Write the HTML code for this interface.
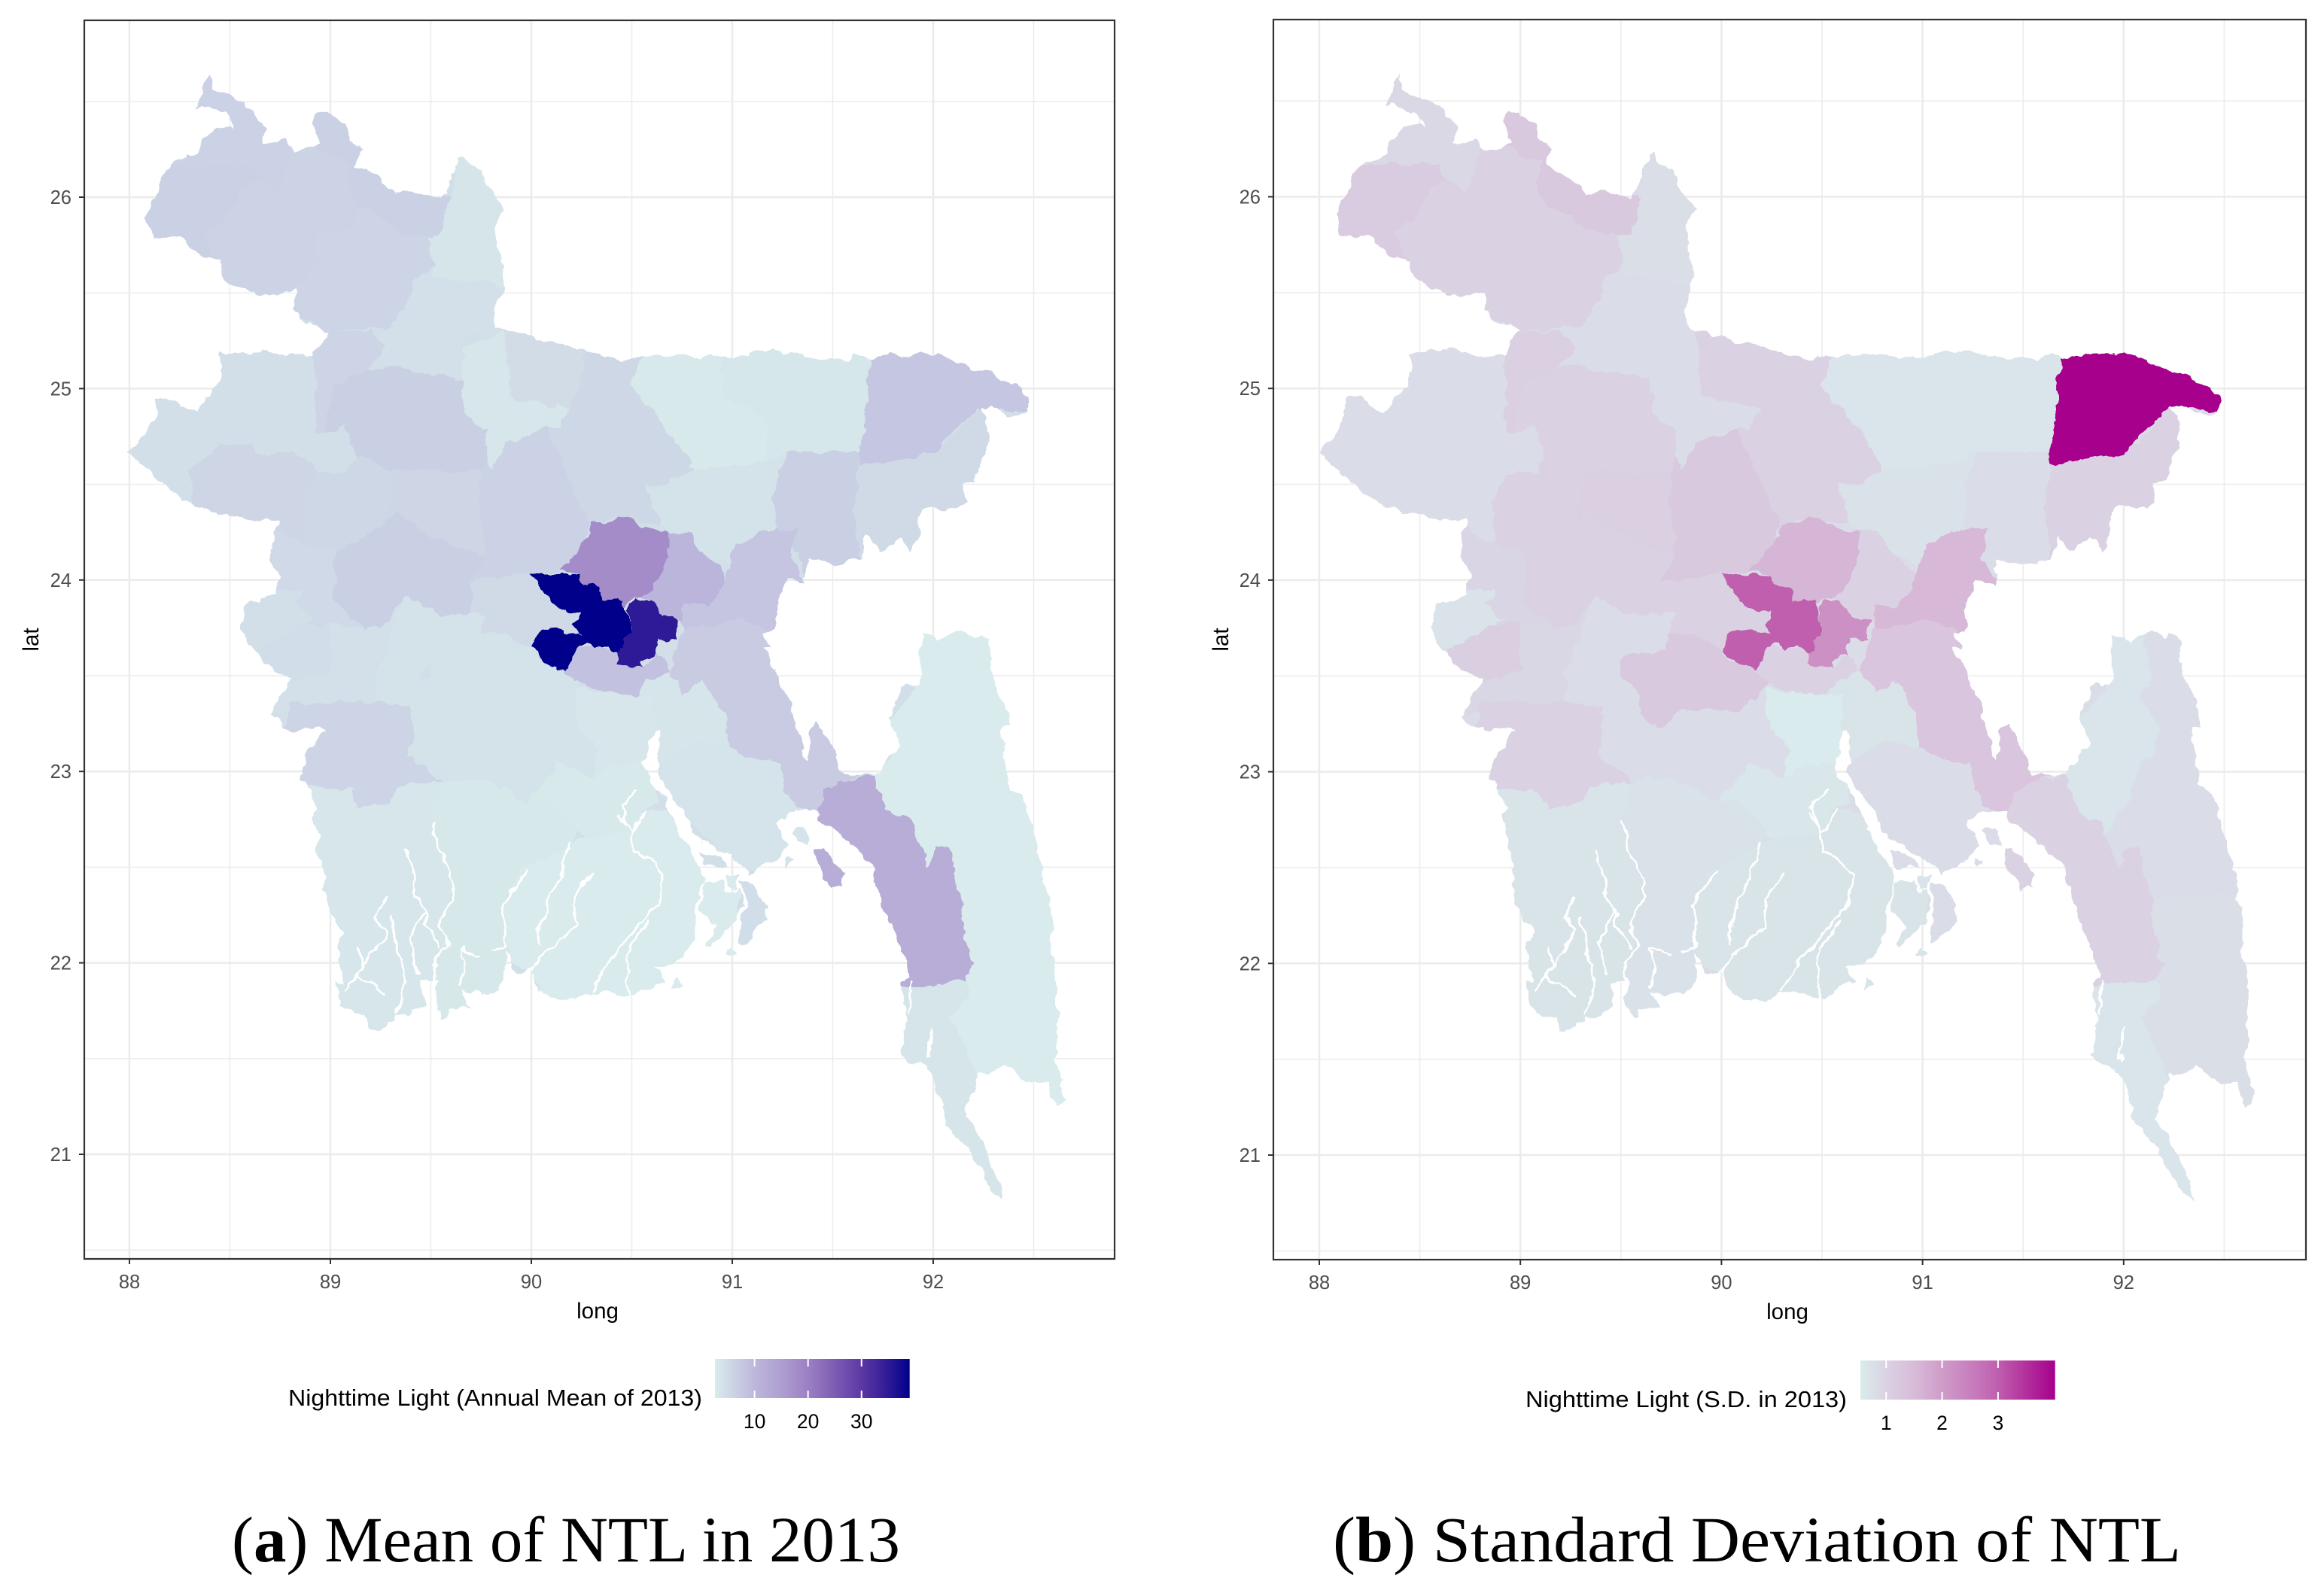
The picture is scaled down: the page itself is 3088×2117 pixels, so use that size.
<!DOCTYPE html>
<html lang="en">
<head>
<meta charset="utf-8">
<title>Nighttime Light in Bangladesh, 2013</title>
<style>
  html, body { margin: 0; padding: 0; background: #ffffff; }
  svg { display: block; }
  text { font-family: "Liberation Sans", sans-serif; }
  .caption { font-family: "Liberation Serif", serif; font-size: 86px; fill: #000; }
  .axis-title { font-size: 29.5px; fill: #000; }
  .legend-title { font-size: 31px; fill: #000; }
  .legend-label { font-size: 26.5px; fill: #000; }
  .tick-label { font-size: 25.5px; fill: #4d4d4d; }
</style>
</head>
<body>
<svg id="figure" xmlns="http://www.w3.org/2000/svg" width="3088" height="2117" viewBox="0 0 3088 2117">
  <defs id="defs">
    <filter id="rough-edge" x="0" y="0" width="1" height="1" color-interpolation-filters="sRGB">
      <feTurbulence type="fractalNoise" baseFrequency="0.05" numOctaves="3" seed="7" result="noise"/>
      <feDisplacementMap in="SourceGraphic" in2="noise" scale="14" xChannelSelector="R" yChannelSelector="G"/>
    </filter>
  </defs>
  <rect x="0" y="0" width="3088" height="2117" fill="#ffffff"/>

  <text class="axis-title" x="794" y="1752" text-anchor="middle">long</text>
  <text class="axis-title" transform="translate(51,850) rotate(-90)" text-anchor="middle">lat</text>
  <text class="legend-title" x="383" y="1868" textLength="550" lengthAdjust="spacingAndGlyphs">Nighttime Light (Annual Mean of 2013)</text>
  <text class="caption" x="308" y="2075" textLength="888" lengthAdjust="spacingAndGlyphs">(<tspan font-weight="bold">a</tspan>) Mean of NTL in 2013</text>

  <text class="axis-title" x="2375" y="1753" text-anchor="middle">long</text>
  <text class="axis-title" transform="translate(1632,850) rotate(-90)" text-anchor="middle">lat</text>
  <text class="legend-title" x="2027" y="1870" textLength="427" lengthAdjust="spacingAndGlyphs">Nighttime Light (S.D. in 2013)</text>
  <text class="caption" x="1771" y="2075" textLength="1127" lengthAdjust="spacingAndGlyphs">(<tspan font-weight="bold">b</tspan>) Standard Deviation of NTL</text>
</svg>

<script>
const xMajorTicks = [88, 89, 90, 91, 92];
const xMinorTicks = [88.5, 89.5, 90.5, 91.5, 92.5];
const yMajorTicks = [26, 25, 24, 23, 22, 21];
const yMinorTicks = [26.5, 25.5, 24.5, 23.5, 22.5, 21.5, 20.5];

const meanLegendTicks = [10, 20, 30];
const sdLegendTicks = [1, 2, 3];

const meanScaleValues = [2.6, 6, 10, 15, 20, 25, 30, 35, 39];
const meanScaleColors = ['#d9ecec', '#ccd3e5', '#bdb7dc', '#ae9fd0', '#9c80c3', '#7d5cb4', '#5c38a4', '#2e1a97', '#00008b'];
const sdScaleValues = [0.54, 1, 1.5, 2, 2.5, 3, 3.5, 4.02];
const sdScaleColors = ['#d9ecec', '#dad2e3', '#d8bcd9', '#cf9cc9', '#c87fbe', '#bf5fae', '#b3309d', '#a6008c'];

const baseMean = 4.4;
const baseSd = 0.8;

const districtNames = ['Panchagarh','Thakurgaon','Dinajpur','Nilphamari','Lalmonirhat','Rangpur','Kurigram','Gaibandha','Naogaon','Chapai Nawabganj','Rajshahi','Joypurhat','Bogra','Natore','Sirajganj','Pabna','Kushtia','Meherpur','Chuadanga','Jhenaidah','Jamalpur','Sherpur','Mymensingh','Tangail','Netrokona','Sunamganj','Kishoreganj','Habiganj','Moulvibazar','Sylhet','Brahmanbaria','Narsingdi','Gazipur','Manikganj','Munshiganj','Rajbari','Faridpur','Narail','Jessore','Satkhira','Khulna','Barisal','Madaripur','Chandpur','Comilla','Noakhali','Patuakhali','Hatiya','Chittagong','Khagrachhari','Rangamati','Bandarban','Coxs Bazar','Dhaka','Narayanganj'];

const meanValues = [6.2,6.3,6.0,6.0,6.3,5.8,3.6,4.2,4.4,4.4,5.6,5.8,6.5,5.4,5.6,6.5,5.2,4.4,4.6,4.2,3.4,4.8,5.5,6.2,3.0,3.3,4.0,6.5,5.0,7.8,8.0,10.5,18,5.0,8.6,3.8,3.9,3.8,5.8,3.4,3.2,3.0,3.4,3.5,7.2,3.7,2.7,4.6,12,2.7,2.7,2.7,3.5,39,35];

const sdValues = [0.9,1.15,1.0,1.0,1.2,1.0,0.78,0.8,0.8,0.82,0.8,1.05,1.0,1.0,1.05,1.02,0.95,0.7,1.1,0.92,0.8,1.0,1.02,1.2,0.66,0.66,0.72,0.82,1.0,4.02,1.55,1.02,1.6,1.0,1.0,0.8,1.2,0.8,1.02,0.68,0.72,0.62,0.56,0.68,1.3,0.8,0.68,0.8,1.0,0.66,0.82,0.78,0.66,3.0,2.2];

const countryBoundary = [
88.40,26.64, 88.42,26.56, 88.52,26.51, 88.62,26.45, 88.68,26.35, 88.66,26.28, 88.78,26.30, 88.82,26.24, 88.87,26.25, 88.95,26.27, 88.91,26.40, 88.95,26.45, 89.07,26.39, 89.10,26.30, 89.16,26.25, 89.12,26.17, 89.22,26.12, 89.33,26.02, 89.40,26.03, 89.48,26.01, 89.56,25.99, 89.59,26.07, 89.64,26.22, 89.66,26.23, 89.69,26.17, 89.75,26.14, 89.79,26.04, 89.87,25.94, 89.82,25.85, 89.83,25.73, 89.87,25.65, 89.85,25.52, 89.82,25.42, 89.82,25.32, 89.90,25.30, 90.07,25.25, 90.27,25.20, 90.44,25.15, 90.61,25.18, 90.74,25.17, 90.91,25.16, 91.21,25.20, 91.44,25.16, 91.58,25.15, 91.61,25.18, 91.71,25.15, 91.74,25.17, 92.01,25.19, 92.11,25.14, 92.31,25.07, 92.41,25.02, 92.45,24.97, 92.48,24.96, 92.48,24.87, 92.36,24.86, 92.29,24.91, 92.23,24.90, 92.28,24.82, 92.27,24.70, 92.21,24.52, 92.15,24.50, 92.16,24.41, 92.11,24.37, 91.98,24.38, 91.93,24.33, 91.93,24.24, 91.89,24.14, 91.84,24.22, 91.74,24.15, 91.67,24.23, 91.64,24.11, 91.51,24.08, 91.37,24.11, 91.37,24.03, 91.36,23.98, 91.27,24.00, 91.22,23.87, 91.21,23.74, 91.16,23.72, 91.19,23.65, 91.15,23.65, 91.20,23.56, 91.23,23.48, 91.29,23.34, 91.31,23.26, 91.36,23.08, 91.38,23.06, 91.38,23.22, 91.43,23.26, 91.49,23.14, 91.54,22.99, 91.71,22.98, 91.78,23.08, 91.83,23.14, 91.78,23.28, 91.84,23.44, 91.94,23.46, 91.94,23.72, 91.99,23.70, 92.03,23.67, 92.14,23.74, 92.21,23.69, 92.23,23.72, 92.28,23.70, 92.29,23.52, 92.36,23.34, 92.39,23.24, 92.34,23.23, 92.37,22.94, 92.44,22.88, 92.49,22.74, 92.53,22.54, 92.60,22.20, 92.58,22.12, 92.62,21.88, 92.61,21.48, 92.66,21.28, 92.61,21.25, 92.56,21.38, 92.49,21.37, 92.41,21.42, 92.36,21.47, 92.31,21.43, 92.23,21.42, 92.16,21.20, 92.23,21.08, 92.26,21.00, 92.33,20.86, 92.34,20.75, 92.29,20.81, 92.18,21.02, 92.06,21.16, 92.01,21.38, 91.94,21.47, 91.89,21.48, 91.84,21.52, 91.87,21.70, 91.84,21.90, 91.88,21.92, 91.87,22.00, 91.82,22.12, 91.76,22.28, 91.69,22.52, 91.57,22.64, 91.43,22.75, 91.43,22.80, 91.29,22.79, 91.21,22.73, 91.28,22.62, 91.24,22.56, 91.09,22.46, 91.07,22.50, 90.94,22.59, 90.80,22.68, 90.77,22.78, 90.69,22.88, 90.63,23.00, 90.64,23.22, 90.61,23.22, 90.56,23.03, 90.59,22.96, 90.67,22.86, 90.68,22.80, 90.77,22.62, 90.83,22.50, 90.86,22.44, 90.82,22.28, 90.82,22.16, 90.76,22.04, 90.69,21.99, 90.61,21.98, 90.67,21.90, 90.61,21.89, 90.50,21.82, 90.37,21.85, 90.30,21.85, 90.22,21.81, 90.14,21.81, 90.07,21.83, 90.02,21.88, 90.00,21.98, 89.97,21.95, 89.93,21.95, 89.90,22.00, 89.87,22.06, 89.87,21.90, 89.84,21.85, 89.70,21.84, 89.65,21.85, 89.69,21.77, 89.59,21.76, 89.59,21.72, 89.55,21.71, 89.52,21.82, 89.54,21.90, 89.48,21.91, 89.45,21.90, 89.47,21.78, 89.38,21.72, 89.33,21.73, 89.33,21.70, 89.28,21.69, 89.27,21.66, 89.20,21.66, 89.18,21.72, 89.12,21.72, 89.05,21.78, 89.02,21.91, 89.07,21.90, 89.03,22.08, 89.07,22.16, 89.02,22.23, 88.98,22.32, 88.96,22.40, 88.98,22.44, 88.93,22.60, 88.95,22.66, 88.91,22.75, 88.93,22.82, 88.88,22.92, 88.85,22.96, 88.87,23.07, 88.93,23.16, 88.97,23.22, 88.88,23.23, 88.80,23.22, 88.70,23.29, 88.72,23.34, 88.75,23.37, 88.80,23.49, 88.72,23.53, 88.58,23.67, 88.56,23.74, 88.58,23.87, 88.73,23.92, 88.75,24.02, 88.70,24.12, 88.73,24.31, 88.55,24.32, 88.33,24.38, 88.20,24.47, 88.06,24.60, 88.00,24.67, 88.08,24.76, 88.13,24.85, 88.13,24.95, 88.20,24.96, 88.25,24.91, 88.33,24.88, 88.38,24.96, 88.45,25.02, 88.45,25.19, 88.53,25.19, 88.67,25.20, 88.80,25.17, 88.92,25.17, 88.97,25.27, 89.00,25.30, 88.87,25.35, 88.82,25.42, 88.83,25.51, 88.68,25.48, 88.53,25.53, 88.45,25.60, 88.45,25.66, 88.35,25.70, 88.25,25.80, 88.11,25.79, 88.08,25.90, 88.13,26.00, 88.16,26.10, 88.23,26.19, 88.35,26.23, 88.35,26.30, 88.45,26.37, 88.52,26.37, 88.48,26.44, 88.36,26.48, 88.33,26.47, 88.36,26.57
];

const islandBoundaries = [
[91.41,22.60, 91.44,22.61, 91.50,22.54, 91.56,22.46, 91.55,22.40, 91.49,22.39, 91.43,22.48],
[91.31,22.71, 91.36,22.71, 91.39,22.65, 91.39,22.61, 91.34,22.62, 91.29,22.68],
[91.04,22.42, 91.11,22.41, 91.17,22.30, 91.17,22.22, 91.07,22.12, 91.03,22.10, 91.04,22.20, 91.07,22.30],
[91.00,22.08, 91.03,22.04, 91.00,22.03, 90.97,22.05],
[90.86,22.42, 90.96,22.43, 90.97,22.36, 91.03,22.39, 91.05,22.30, 91.00,22.20, 90.89,22.08, 90.87,22.10, 90.92,22.20, 90.84,22.28],
[90.84,22.58, 90.94,22.56, 90.98,22.50, 90.87,22.50],
[90.97,22.45, 91.04,22.45, 91.02,22.39, 90.98,22.39],
[91.27,22.55, 91.31,22.54, 91.27,22.50],
[90.72,21.93, 90.76,21.90, 90.71,21.86]
];

const riverChannels = [
[89.51,22.73, 89.54,22.60, 89.59,22.48, 89.62,22.36, 89.57,22.24, 89.55,22.18, 89.59,22.10, 89.52,22.00, 89.52,21.90],
[89.38,22.58, 89.42,22.46, 89.43,22.34, 89.48,22.26, 89.47,22.20, 89.55,22.08],
[89.98,22.48, 89.90,22.38, 89.85,22.30, 89.87,22.18, 89.87,22.08, 89.80,22.06],
[90.30,22.47, 90.22,22.34, 90.22,22.20, 90.15,22.12, 90.04,22.02, 90.00,21.96],
[90.19,22.63, 90.15,22.46, 90.09,22.34, 90.07,22.26, 90.04,22.18, 90.04,22.10],
[90.44,22.78, 90.50,22.68, 90.50,22.58, 90.60,22.54, 90.65,22.46, 90.64,22.32, 90.57,22.24, 90.40,22.02, 90.30,21.86],
[90.52,22.90, 90.45,22.82, 90.47,22.74],
[89.27,22.34, 89.22,22.24, 89.28,22.16, 89.20,22.04, 89.13,21.92, 89.20,21.90, 89.27,21.84],
[89.13,22.08, 89.17,21.98, 89.07,21.86],
[89.74,22.04, 89.65,22.08, 89.67,21.96, 89.64,21.88],
[89.30,22.24, 89.33,22.08, 89.37,21.90, 89.33,21.74],
[89.47,22.28, 89.40,22.12, 89.43,21.95],
[91.90,21.90, 91.88,21.74],
[92.00,21.66, 91.98,21.50],
[90.47,22.00, 90.49,21.82],
[90.59,22.22, 90.49,22.08, 90.47,22.00],
[90.57,22.80, 90.50,22.68]
];

const districtBoundaries = [
[88.23,26.70, 88.83,26.70, 88.80,26.28, 88.78,26.15, 88.73,26.03, 88.63,26.09, 88.60,26.17, 88.18,26.17],
[87.93,26.17, 88.60,26.17, 88.63,26.09, 88.55,26.03, 88.48,25.88, 88.38,25.83, 88.41,25.70, 88.45,25.63, 87.93,25.63],
[88.48,25.88, 88.55,26.03, 88.63,26.09, 88.73,26.03, 88.90,26.03, 88.93,25.83, 88.93,25.63, 88.83,25.53, 88.80,25.40, 88.45,25.40, 88.45,25.63, 88.41,25.70, 88.38,25.83],
[88.80,26.28, 88.87,26.28, 89.10,26.18, 89.08,26.08, 89.13,25.95, 89.13,25.83, 88.93,25.83, 88.90,26.03, 88.73,26.03, 88.78,26.15],
[88.87,26.48, 89.20,26.48, 89.20,26.17, 89.60,26.00, 89.55,25.80, 89.37,25.80, 89.20,25.93, 89.13,25.95, 89.08,26.08, 89.10,26.18, 88.87,26.28],
[88.93,25.83, 89.13,25.83, 89.13,25.95, 89.20,25.93, 89.37,25.80, 89.48,25.80, 89.52,25.63, 89.43,25.58, 89.40,25.48, 89.30,25.32, 89.00,25.30, 88.80,25.40, 88.83,25.53, 88.93,25.63],
[89.60,26.00, 89.64,26.28, 90.00,26.28, 90.00,25.48, 89.80,25.55, 89.50,25.59, 89.52,25.63, 89.48,25.80, 89.55,25.80],
[89.50,25.59, 89.80,25.55, 90.00,25.48, 89.87,25.30, 89.65,25.27, 89.65,25.05, 89.28,25.12, 89.18,25.20, 89.30,25.32, 89.40,25.48, 89.43,25.58],
[88.45,25.20, 88.92,25.22, 88.93,24.77, 88.97,24.77, 89.07,24.80, 89.13,24.65, 89.07,24.56, 88.93,24.56, 88.90,24.63, 88.77,24.67, 88.63,24.66, 88.60,24.71, 88.45,24.70],
[87.86,25.27, 88.45,25.20, 88.45,24.70, 88.30,24.58, 88.31,24.37, 87.86,24.37],
[88.30,24.58, 88.45,24.70, 88.60,24.71, 88.63,24.66, 88.77,24.67, 88.90,24.63, 88.93,24.56, 88.87,24.42, 88.87,24.19, 88.73,24.27, 88.31,24.27],
[88.92,25.22, 88.98,25.30, 89.20,25.30, 89.28,25.22, 89.18,25.10, 89.02,25.02, 88.97,24.77, 88.93,24.77],
[89.18,25.10, 89.28,25.12, 89.65,25.05, 89.66,24.87, 89.77,24.78, 89.78,24.65, 89.76,24.57, 89.59,24.56, 89.33,24.57, 89.13,24.65, 89.07,24.80, 88.97,24.77, 89.02,25.02],
[88.93,24.56, 89.07,24.56, 89.13,24.65, 89.33,24.57, 89.27,24.31, 89.20,24.24, 89.02,24.14, 88.87,24.19, 88.87,24.42],
[89.33,24.57, 89.59,24.56, 89.76,24.57, 89.74,24.47, 89.77,24.12, 89.60,24.19, 89.43,24.27, 89.33,24.36, 89.27,24.31],
[89.02,24.14, 89.20,24.24, 89.27,24.31, 89.33,24.36, 89.43,24.27, 89.60,24.19, 89.77,24.12, 89.70,23.99, 89.70,23.82, 89.53,23.82, 89.37,23.92, 89.28,23.77, 89.17,23.74, 89.02,23.89],
[88.73,24.27, 88.87,24.19, 89.02,24.14, 89.02,23.89, 89.17,23.74, 89.00,23.77, 88.87,23.77, 88.92,23.79, 88.83,23.87, 88.87,23.95, 88.67,23.95, 88.67,24.27],
[88.40,23.95, 88.87,23.95, 88.83,23.87, 88.92,23.79, 88.87,23.77, 88.63,23.64, 88.40,23.64],
[88.63,23.64, 88.87,23.77, 89.00,23.77, 89.00,23.52, 88.80,23.47, 88.67,23.55],
[89.00,23.77, 89.17,23.74, 89.28,23.77, 89.37,23.92, 89.30,23.72, 89.22,23.52, 89.23,23.34, 88.87,23.31, 88.67,23.31, 88.67,23.55, 88.80,23.47, 89.00,23.52],
[89.67,25.22, 89.87,25.30, 89.90,24.95, 90.19,24.90, 90.15,24.80, 90.00,24.76, 89.87,24.72, 89.80,24.57, 89.78,24.65, 89.77,24.78, 89.66,24.87, 89.65,25.05],
[89.87,25.30, 90.27,25.27, 90.24,25.00, 90.19,24.90, 89.90,24.95],
[90.27,25.27, 90.60,25.27, 90.49,25.02, 90.69,24.77, 90.81,24.57, 90.67,24.50, 90.57,24.50, 90.64,24.29, 90.44,24.33, 90.29,24.29, 90.22,24.45, 90.14,24.65, 90.07,24.80, 90.15,24.80, 90.19,24.90, 90.24,25.00],
[89.87,24.72, 90.00,24.76, 90.07,24.80, 90.14,24.65, 90.22,24.45, 90.29,24.29, 90.22,24.07, 90.14,24.04, 89.90,24.02, 89.70,23.99, 89.77,24.12, 89.74,24.47, 89.76,24.57, 89.78,24.65, 89.80,24.57],
[90.60,25.27, 90.94,25.27, 90.96,24.95, 91.17,24.85, 91.17,24.62, 90.81,24.57, 90.69,24.77, 90.49,25.02],
[90.94,25.27, 91.71,25.27, 91.67,25.02, 91.66,24.67, 91.29,24.67, 91.17,24.62, 91.17,24.85, 90.96,24.95],
[90.57,24.50, 90.67,24.50, 90.81,24.57, 91.17,24.62, 91.29,24.67, 91.21,24.52, 91.21,24.27, 91.02,24.19, 90.99,24.07, 90.84,24.14, 90.67,24.26, 90.64,24.29],
[91.29,24.67, 91.64,24.67, 91.61,24.39, 91.64,24.02, 91.37,24.02, 91.27,24.26, 91.21,24.27, 91.21,24.52],
[91.64,24.62, 91.74,24.62, 92.01,24.66, 92.23,24.90, 92.58,24.82, 92.58,24.02, 91.64,24.02, 91.61,24.39],
[91.71,25.27, 92.75,25.27, 92.75,24.85, 92.23,24.90, 92.08,24.76, 92.01,24.66, 91.74,24.62, 91.64,24.60, 91.63,24.67, 91.66,24.82, 91.67,25.02],
[91.02,24.19, 91.21,24.27, 91.32,24.27, 91.29,24.12, 91.41,23.94, 91.22,23.86, 91.22,23.72, 91.02,23.80, 90.76,23.74, 90.74,23.79, 90.76,23.87, 90.84,23.94, 90.96,24.02, 90.99,24.07],
[90.68,24.25, 90.78,24.25, 90.84,24.15, 90.96,24.04, 90.95,23.95, 90.88,23.87, 90.76,23.87, 90.75,23.79, 90.73,23.79, 90.65,23.81, 90.60,23.89, 90.55,23.91, 90.60,23.94, 90.65,24.03, 90.68,24.12],
[90.14,24.05, 90.21,24.13, 90.28,24.23, 90.30,24.30, 90.40,24.30, 90.44,24.34, 90.51,24.31, 90.58,24.27, 90.68,24.25, 90.68,24.12, 90.65,24.03, 90.60,23.94, 90.55,23.91, 90.50,23.90, 90.46,23.86, 90.46,23.90, 90.35,23.89, 90.34,23.96, 90.25,23.98, 90.24,24.03],
[89.70,23.99, 89.90,24.02, 90.00,24.04, 90.25,23.90, 90.25,23.72, 90.04,23.70, 90.00,23.64, 89.87,23.72, 89.74,23.72, 89.77,23.82, 89.70,23.82],
[90.14,23.54, 90.20,23.58, 90.24,23.66, 90.35,23.65, 90.43,23.62, 90.43,23.56, 90.56,23.54, 90.63,23.62, 90.69,23.52, 90.57,23.48, 90.53,23.39, 90.40,23.41, 90.24,23.46],
[89.37,23.92, 89.53,23.82, 89.70,23.82, 89.77,23.82, 89.74,23.72, 89.72,23.65, 89.50,23.59, 89.43,23.46, 89.22,23.46, 89.30,23.72],
[89.50,23.59, 89.72,23.65, 89.74,23.72, 89.87,23.72, 90.00,23.64, 90.04,23.58, 90.14,23.54, 90.24,23.46, 90.09,23.32, 89.80,23.32, 89.69,23.22, 89.60,23.31, 89.57,23.44, 89.50,23.49],
[89.22,23.46, 89.43,23.46, 89.50,23.49, 89.57,23.44, 89.60,23.31, 89.69,23.22, 89.80,23.32, 90.09,23.32, 90.22,23.44, 90.24,23.22, 90.34,23.12, 90.30,22.96, 90.14,23.05, 90.04,22.90, 89.97,22.84, 89.77,22.96, 89.55,22.95, 89.47,23.02, 89.38,23.08, 89.42,23.15, 89.40,23.34, 89.23,23.36],
[88.80,23.36, 89.23,23.36, 89.40,23.34, 89.42,23.15, 89.38,23.08, 89.47,23.02, 89.55,22.95, 89.33,22.92, 89.30,22.84, 89.13,22.80, 89.10,22.90, 88.88,22.92, 88.73,22.92],
[88.73,22.92, 88.88,22.92, 89.10,22.90, 89.13,22.80, 89.30,22.84, 89.33,22.92, 89.55,22.95, 89.50,22.74, 89.55,22.56, 89.60,22.36, 89.55,22.20, 89.57,22.08, 89.50,21.88, 89.50,21.64, 89.00,21.64, 88.73,22.28],
[89.55,22.95, 89.77,22.96, 89.97,22.84, 90.07,22.86, 90.24,22.68, 90.19,22.62, 89.94,22.48, 89.85,22.30, 89.90,22.00, 89.87,21.68, 89.50,21.68, 89.50,21.88, 89.57,22.08, 89.55,22.20, 89.60,22.36, 89.55,22.56, 89.50,22.74],
[89.97,22.84, 90.04,22.90, 90.14,23.05, 90.30,22.96, 90.37,23.02, 90.61,23.06, 90.64,22.84, 90.54,22.80, 90.50,22.68, 90.27,22.66, 90.24,22.68, 90.07,22.86],
[90.22,23.44, 90.40,23.41, 90.53,23.39, 90.60,23.40, 90.60,23.22, 90.61,23.06, 90.37,23.02, 90.30,22.96, 90.34,23.12, 90.24,23.22],
[90.57,23.48, 90.69,23.52, 90.76,23.41, 90.86,23.48, 90.97,23.28, 90.99,23.13, 90.81,23.16, 90.64,23.04, 90.60,23.22, 90.60,23.40, 90.53,23.39],
[90.69,23.52, 90.73,23.66, 90.76,23.74, 91.02,23.80, 91.22,23.72, 91.41,23.52, 91.41,23.48, 91.67,23.28, 91.67,23.00, 91.57,22.96, 91.46,22.90, 91.43,22.80, 91.41,22.76, 91.32,22.82, 91.26,22.90, 91.24,23.05, 91.07,23.07, 90.99,23.13, 90.97,23.28, 90.86,23.48, 90.76,23.41],
[90.64,23.04, 90.81,23.16, 90.99,23.13, 91.07,23.07, 91.24,23.05, 91.26,22.90, 91.32,22.82, 91.41,22.76, 91.74,22.64, 91.24,22.36, 91.07,22.46, 90.74,22.78, 90.64,22.88],
[89.94,22.48, 90.19,22.62, 90.27,22.66, 90.50,22.68, 90.54,22.80, 90.67,22.80, 90.87,22.48, 91.07,22.48, 91.07,22.08, 90.84,21.88, 90.47,21.78, 90.07,21.78, 90.00,21.96, 89.90,22.00, 89.85,22.30],
[91.03,22.48, 91.25,22.48, 91.25,22.05, 91.03,22.05],
[91.43,22.80, 91.46,22.90, 91.57,22.96, 91.71,22.98, 91.73,22.90, 91.79,22.78, 91.88,22.75, 91.91,22.68, 91.93,22.61, 91.98,22.49, 92.01,22.60, 92.08,22.61, 92.11,22.42, 92.15,22.32, 92.14,22.24, 92.18,22.04, 92.21,22.00, 92.16,21.91, 91.91,21.88, 91.74,21.88, 91.41,22.48, 91.41,22.72],
[91.78,23.28, 91.91,23.42, 91.90,23.80, 92.09,23.80, 92.14,23.48, 92.08,23.38, 92.19,23.22, 92.14,23.08, 92.08,23.04, 92.04,22.88, 91.96,22.78, 91.94,22.68, 91.91,22.68, 91.88,22.75, 91.79,22.78, 91.73,22.90, 91.71,22.98, 91.79,23.08],
[92.09,23.80, 92.40,23.80, 92.41,23.24, 92.41,22.92, 92.54,22.72, 92.75,22.36, 92.18,22.34, 92.15,22.32, 92.11,22.42, 92.08,22.61, 92.01,22.60, 91.98,22.49, 91.93,22.61, 91.91,22.68, 91.94,22.68, 91.96,22.78, 92.04,22.88, 92.08,23.04, 92.14,23.08, 92.19,23.22, 92.08,23.38, 92.14,23.48],
[92.18,22.34, 92.75,22.36, 92.75,21.20, 92.23,21.37, 92.18,21.52, 92.08,21.72, 92.18,21.82, 92.16,21.91, 92.21,22.00, 92.18,22.04, 92.14,22.24, 92.15,22.32],
[91.91,21.88, 92.16,21.91, 92.18,21.82, 92.08,21.72, 92.18,21.52, 92.23,21.37, 92.16,21.20, 92.60,20.70, 91.70,20.70, 91.70,21.88],
[90.00,24.03, 90.14,24.03, 90.24,24.03, 90.25,23.98, 90.34,23.96, 90.35,23.89, 90.46,23.90, 90.48,23.83, 90.50,23.72, 90.45,23.68, 90.46,23.64, 90.43,23.62, 90.38,23.65, 90.31,23.65, 90.28,23.68, 90.24,23.66, 90.20,23.58, 90.17,23.53, 90.14,23.54, 90.07,23.57, 90.03,23.61, 90.00,23.65, 90.03,23.70, 90.05,23.74, 90.13,23.75, 90.18,23.73, 90.25,23.72, 90.21,23.76, 90.24,23.79, 90.24,23.84, 90.18,23.83, 90.14,23.85, 90.06,23.92, 90.03,23.99],
[90.48,23.85, 90.51,23.90, 90.60,23.89, 90.65,23.81, 90.73,23.79, 90.72,23.73, 90.73,23.68, 90.63,23.69, 90.63,23.62, 90.54,23.57, 90.56,23.54, 90.43,23.56, 90.43,23.62, 90.46,23.64, 90.45,23.68, 90.50,23.72]
];

const SVGNS = 'http://www.w3.org/2000/svg';
const figure = document.getElementById('figure');
const defsEl = document.getElementById('defs');

function make(tag, attrs, parent) {
  const el = document.createElementNS(SVGNS, tag);
  for (const k in attrs) el.setAttribute(k, attrs[k]);
  parent.appendChild(el);
  return el;
}
function hexToRgb(h) {
  return [parseInt(h.slice(1, 3), 16), parseInt(h.slice(3, 5), 16), parseInt(h.slice(5, 7), 16)];
}
function colorFrom(scaleValues, scaleColors, v) {
  if (v <= scaleValues[0]) return scaleColors[0];
  const n = scaleValues.length;
  if (v >= scaleValues[n - 1]) return scaleColors[n - 1];
  for (let i = 0; i < n - 1; i++) {
    if (v <= scaleValues[i + 1]) {
      const t = (v - scaleValues[i]) / (scaleValues[i + 1] - scaleValues[i]);
      const a = hexToRgb(scaleColors[i]);
      const b = hexToRgb(scaleColors[i + 1]);
      const c = a.map((ai, j) => Math.round(ai + (b[j] - ai) * t));
      return 'rgb(' + c.join(',') + ')';
    }
  }
}
function pointsFrom(flat, xf, yf) {
  const out = [];
  for (let i = 0; i < flat.length; i += 2) {
    out.push(xf(flat[i]).toFixed(1) + ',' + yf(flat[i + 1]).toFixed(1));
  }
  return out.join(' ');
}

function drawPanel(cfg) {
  const xf = lon => cfg.x0 + (lon - 88) * cfg.xScale;
  const yf = lat => cfg.y0 + (26 - lat) * cfg.yScale;
  const colorOf = v => colorFrom(cfg.scaleValues, cfg.scaleColors, v);

  const panel = make('g', {}, figure);
  
  

  const grid = make('g', {}, panel);
  
  
  xMinorTicks.forEach(t => {
    const l = make('line', { x1: xf(t), x2: xf(t), y1: cfg.top, y2: cfg.bottom, stroke: '#ececec', 'stroke-width': 1.5 }, grid);
    
    
  });
  yMinorTicks.forEach(t => {
    const l = make('line', { x1: cfg.left, x2: cfg.right, y1: yf(t), y2: yf(t), stroke: '#ececec', 'stroke-width': 1.5 }, grid);
    
    
  });
  xMajorTicks.forEach(t => {
    const l = make('line', { x1: xf(t), x2: xf(t), y1: cfg.top, y2: cfg.bottom, stroke: '#ebebeb', 'stroke-width': 2.5 }, grid);
    
    
  });
  yMajorTicks.forEach(t => {
    const l = make('line', { x1: cfg.left, x2: cfg.right, y1: yf(t), y2: yf(t), stroke: '#ebebeb', 'stroke-width': 2.5 }, grid);
    
    
  });

  const clip = make('clipPath', { id: 'country-' + cfg.key }, defsEl);
  make('polygon', { points: pointsFrom(countryBoundary, xf, yf) }, clip);
  islandBoundaries.forEach(b => make('polygon', { points: pointsFrom(b, xf, yf) }, clip));

  const rough = make('g', { filter: 'url(#rough-edge)' }, panel);
  
  

  const map = make('g', { 'clip-path': 'url(#country-' + cfg.key + ')', 'shape-rendering': 'crispEdges' }, rough);
  
  

  const base = make('rect', { x: cfg.left, y: cfg.top, width: cfg.right - cfg.left, height: cfg.bottom - cfg.top, fill: colorOf(cfg.base) }, map);
  
  

  districtNames.forEach((name, i) => {
    const p = make('polygon', { points: pointsFrom(districtBoundaries[i], xf, yf), fill: colorOf(cfg.values[i]) }, map);
    
    
    const tip = make('title', {}, p);
    tip.textContent = name + ': ' + cfg.values[i];
  });

  const rivers = make('g', { fill: 'none', stroke: '#ffffff', 'stroke-linejoin': 'round', 'stroke-linecap': 'round' }, rough);
  
  
  riverChannels.forEach(r => {
    const l = make('polyline', { points: pointsFrom(r, xf, yf), 'stroke-width': 3 }, rivers);
    
    
  });

  const border = make('rect', { x: cfg.left, y: cfg.top, width: cfg.right - cfg.left, height: cfg.bottom - cfg.top, fill: 'none', stroke: '#333333', 'stroke-width': 2.2 }, panel);
  
  

  xMajorTicks.forEach(t => {
    const m = make('line', { x1: xf(t), x2: xf(t), y1: cfg.bottom, y2: cfg.bottom + 7, stroke: '#333333', 'stroke-width': 2 }, panel);
    
    
    const tx = make('text', { x: xf(t), y: cfg.bottom + 39, class: 'tick-label', 'text-anchor': 'middle' }, panel);
    
    
    tx.textContent = t;
  });
  yMajorTicks.forEach(t => {
    const m = make('line', { x1: cfg.left - 7, x2: cfg.left, y1: yf(t), y2: yf(t), stroke: '#333333', 'stroke-width': 2 }, panel);
    
    
    const tx = make('text', { x: cfg.left - 17, y: yf(t) + 9, class: 'tick-label', 'text-anchor': 'end' }, panel);
    
    
    tx.textContent = t;
  });

  /* colour bar */
  const vMin = cfg.scaleValues[0];
  const vMax = cfg.scaleValues[cfg.scaleValues.length - 1];
  const legendX = v => cfg.legendLeft + (v - vMin) / (vMax - vMin) * cfg.legendWidth;
  const grad = make('linearGradient', { id: 'gradient-' + cfg.key, x1: 0, x2: 1, y1: 0, y2: 0 }, defsEl);
  cfg.scaleValues.forEach((v, i) => {
    make('stop', { offset: (v - vMin) / (vMax - vMin), 'stop-color': cfg.scaleColors[i] }, grad);
  });
  const legend = make('g', {}, figure);
  
  
  const bar = make('rect', { x: cfg.legendLeft, y: cfg.legendTop, width: cfg.legendWidth, height: 52, fill: 'url(#gradient-' + cfg.key + ')' }, legend);
  
  
  cfg.legendTicks.forEach(t => {
    const a = make('line', { x1: legendX(t), x2: legendX(t), y1: cfg.legendTop, y2: cfg.legendTop + 10, stroke: '#ffffff', 'stroke-width': 2 }, legend);
    
    
    const b = make('line', { x1: legendX(t), x2: legendX(t), y1: cfg.legendTop + 42, y2: cfg.legendTop + 52, stroke: '#ffffff', 'stroke-width': 2 }, legend);
    
    
    const tx = make('text', { x: legendX(t), y: cfg.legendTop + 92, class: 'legend-label', 'text-anchor': 'middle' }, legend);
    
    
    tx.textContent = t;
  });
}

drawPanel({
  key: 'mean', x0: 172, xScale: 267, y0: 262, yScale: 254.4,
  left: 112, right: 1481, top: 27, bottom: 1673,
  values: meanValues, base: baseMean,
  scaleValues: meanScaleValues, scaleColors: meanScaleColors,
  legendTicks: meanLegendTicks, legendLeft: 950, legendWidth: 258.7, legendTop: 1806
});
drawPanel({
  key: 'sd', x0: 1753, xScale: 267.2, y0: 261.5, yScale: 254.7,
  left: 1692, right: 3064, top: 26, bottom: 1674,
  values: sdValues, base: baseSd,
  scaleValues: sdScaleValues, scaleColors: sdScaleColors,
  legendTicks: sdLegendTicks, legendLeft: 2472, legendWidth: 258.7, legendTop: 1808
});
</script>
</body>
</html>
